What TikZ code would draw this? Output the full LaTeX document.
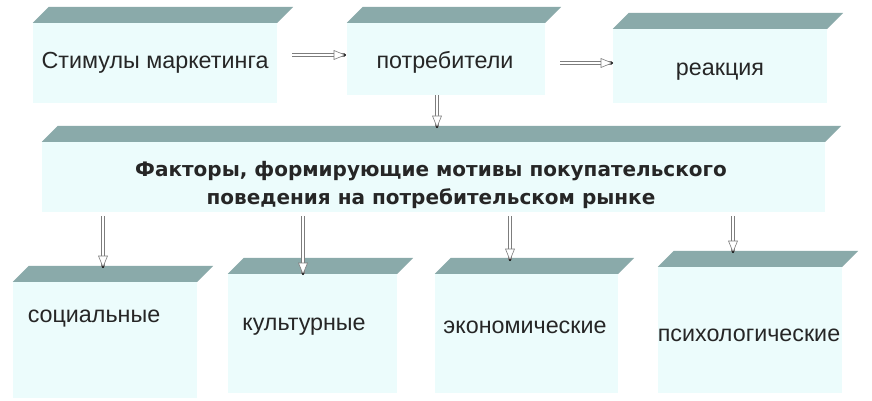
\documentclass[tikz,border=0pt]{standalone}
\usepackage{fontspec}
\setmainfont{Liberation Sans}
\newfontfamily\headfont{DejaVu Sans}
\usetikzlibrary{arrows.meta,calc,decorations.markings}
\definecolor{bandcol}{RGB}{138,170,170}
\definecolor{facecol}{RGB}{236,252,252}
\definecolor{arrcol}{RGB}{125,125,125}
\tikzset{
  facebox/.style={rectangle, fill=facecol, draw=none, inner sep=0pt},
  lbl/.style={font=\fontsize{23.3}{28}\selectfont, text=black!85, inner sep=0pt},
  boldlbl/.style={font=\headfont\fontsize{20}{28}\bfseries\selectfont, text=black!85, align=center, inner sep=0pt},
  flow/.style={draw=arrcol, line width=0.5pt, double=white, double distance=2.6pt,
    postaction={decorate, decoration={markings,
      mark=at position 1 with {\draw[arrcol, fill=white, line width=0.6pt] (-11pt,-4.5pt) -- (0pt,0pt) -- (-11pt,4.5pt) -- cycle;
        \fill[black] (0pt,0pt) circle (1.1pt);},
      mark=at position 0 with {\fill[black!80] (-1pt,-2pt) -- (4pt,0pt) -- (-1pt,2pt) -- (1pt,0pt) -- cycle;}}}},
}
\newcommand{\band}[1]{\fill[bandcol] (#1.north west) -- (#1.north east) -- ++(16,-16) -- ($(#1.north west)+(16,-16)$) -- cycle;}
\begin{document}
\begin{tikzpicture}[x=1pt,y=-1pt]
\useasboundingbox[fill=white] (0,0) rectangle (872,401);
% top row
\node[facebox, minimum width=244pt, minimum height=80pt] (S) at (155,63) {};
\node[facebox, minimum width=198pt, minimum height=72pt] (P) at (446,59) {};
\node[facebox, minimum width=214pt, minimum height=74pt] (R) at (720,66) {};
\band{S}\band{P}\band{R}
\node[lbl] (St) at (155,63) {Стимулы маркетинга};
\node[lbl] (Pt) at (445,62) {потребители};
\node[lbl] (Rt) at (720,72) {реакция};
% big box
\node[facebox, minimum width=783pt, minimum height=70pt] (F) at (433.5,177) {};
\band{F}
\node[boldlbl] (Ft) at (431,184.5) {Факторы, формирующие мотивы покупательского\\поведения на потребительском рынке};
% bottom row
\node[facebox, minimum width=184pt, minimum height=116pt] (A) at (105,340) {};
\node[facebox, minimum width=169pt, minimum height=119pt] (B) at (312.5,333.5) {};
\node[facebox, minimum width=183pt, minimum height=119pt] (C) at (526.5,333.5) {};
\node[facebox, minimum width=184pt, minimum height=126pt] (D) at (750,330) {};
\band{A}\band{B}\band{C}\band{D}
\node[lbl] (At) at (94,319) {социальные};
\node[lbl] (Bt) at (304,327) {культурные};
\node[lbl] (Ct) at (525,327) {экономические};
\node[lbl] (Dt) at (749,335) {психологические};
% connection points
\coordinate (s1) at (292,55);
\coordinate (p1) at (345,55);
\coordinate (p2) at (560,63);
\coordinate (r1) at (612,63);
\coordinate (ftop) at (437,127);
\coordinate (atop) at (103,267);
\coordinate (btop) at (303,274);
\coordinate (ctop) at (510,260);
\coordinate (dtop) at (733,252);
% connectors
\draw[flow] (s1) -- (p1);
\draw[flow] (p2) -- (r1);
\draw[flow] (P.south -| ftop) -- (ftop);
\draw[flow] ([yshift=-4pt]F.south -| atop) -- (atop);
\draw[flow] ([yshift=-4pt]F.south -| btop) -- (btop);
\draw[flow] ([yshift=-4pt]F.south -| ctop) -- (ctop);
\draw[flow] ([yshift=-4pt]F.south -| dtop) -- (dtop);
\end{tikzpicture}
\end{document}
